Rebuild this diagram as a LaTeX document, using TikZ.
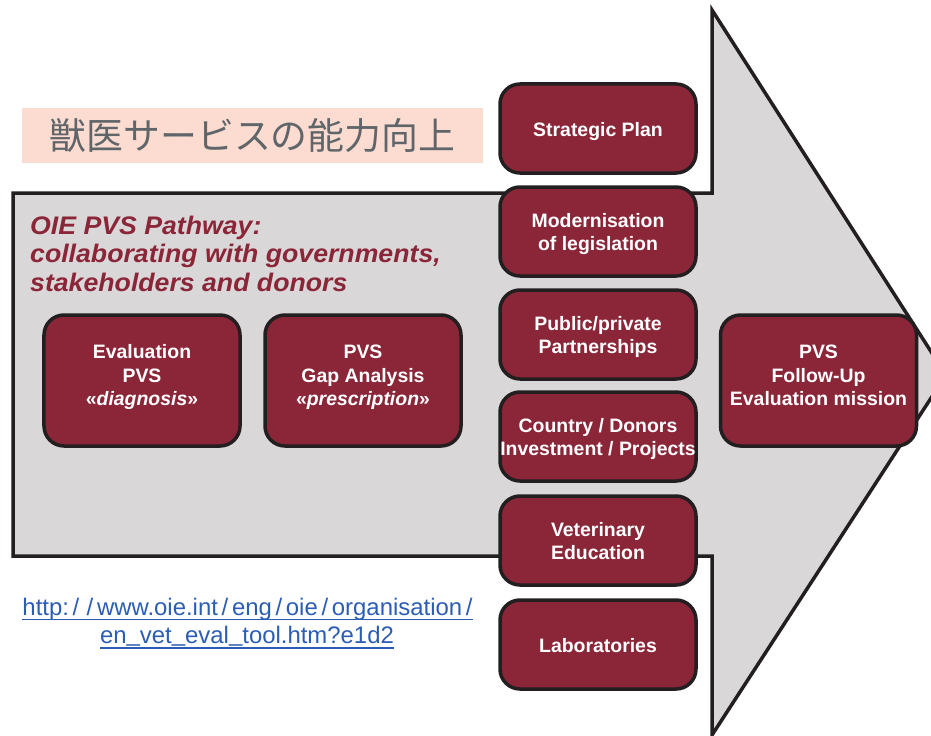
\documentclass[tikz,border=0pt]{standalone}
\usepackage{fontspec}
\setmainfont{Liberation Sans}
\newfontfamily\jpfont{Noto Sans CJK JP}
\newfontfamily\capfont[FakeStretch=1.05]{Liberation Sans}
\usetikzlibrary{calc}

\definecolor{maroon}{HTML}{8B2639}
\definecolor{edge}{HTML}{231F20}
\definecolor{arrowgray}{HTML}{D9D7D8}
\definecolor{pinkbg}{HTML}{FCDCD0}
\definecolor{jpgray}{HTML}{5F6569}
\definecolor{linkblue}{HTML}{2B5DB4}

% invisible struts fixing the height of a first line and the depth of a last line
\newcommand\topline{\rule{0pt}{20bp}}
\newcommand\lowline[1][5bp]{\rule[-#1]{0pt}{#1}}
% slash and underscore as set in the link
\newcommand\urlslash{\hspace{3.7bp}/\hspace{3.7bp}}
\newcommand\urlus{\raisebox{1.3bp}{\_}}

\begin{document}
\begin{tikzpicture}[x=1bp,y=-1bp,
  stepbox/.style={draw=edge, line width=3.5bp, fill=maroon, rounded corners=20bp,
    text=white, align=center, inner sep=0pt,
    font=\fontsize{19.5}{23.5}\selectfont\bfseries},
  rowbox/.style={stepbox, minimum width=196bp, minimum height=89bp},
  tallbox/.style={stepbox, minimum width=196bp, minimum height=131bp},
  linktext/.style={text=linkblue, inner sep=0pt, anchor=base,
    font=\fontsize{24}{28}\selectfont},
  linkline/.style={draw=linkblue, line width=1.4bp}]

\useasboundingbox (0,0) rectangle (931,736);
\clip (0,0) rectangle (931,736);

% big grey arrow
\draw[fill=arrowgray, draw=edge, line width=3.5bp, line join=miter]
  (13,193) -- (712,193) -- (712,10) -- (946,375) -- (712,735)
  -- (712,556) -- (13,556) -- cycle;

% heading on pink band
\node[fill=pinkbg, minimum width=461bp, minimum height=55bp, inner sep=0pt,
  text=jpgray, font=\jpfont\fontsize{37}{40}\selectfont]
  (jp) at (252.5,135.5) {獣医サービスの能力向上};

% pathway caption
\node[anchor=north west, inner sep=0pt, align=left, text=maroon,
  font=\capfont\fontsize{25.5}{28.4}\selectfont\bfseries\itshape]
  (caption) at (30,214.5) {\topline OIE PVS Pathway:\\collaborating with governments,\\stakeholders and donors};

% evaluation steps
\node[tallbox] (eval) at (142,380.5) {\topline Evaluation\\PVS\\«\textit{diagnosis}»\lowline[17bp]};
\node[tallbox] (gap) at (363,380.5) {\topline PVS\\Gap Analysis\\«\textit{prescription}»\lowline[17bp]};

% column of activities
\node[rowbox] (plan) at (598,128.5) {\topline Strategic Plan\lowline};
\node[rowbox] (leg) at (598,231.5) {\topline Modernisation\\of legislation\lowline};
\node[rowbox] (ppp) at (598,334.5) {\topline Public/private\\Partnerships\lowline};
\node[rowbox] (inv) at (598,436.5) {\topline Country / Donors\\Investment / Projects\lowline};
\node[rowbox] (edu) at (598,540.5) {\topline Veterinary\\Education\lowline};
\node[rowbox] (lab) at (598,644.5) {\topline Laboratories\lowline};

% follow-up mission
\node[tallbox] (follow) at (818.5,380.5) {\topline PVS\\Follow-Up\\Evaluation mission\lowline[17bp]};

% link
\node[linktext] (url1) at (247.5,615)
  {http:\urlslash\urlslash www.oie.int\urlslash eng\urlslash oie\urlslash organisation\urlslash};
\node[linktext] (url2) at (247,643) {en\urlus vet\urlus eval\urlus tool.htm?e1d2};
\draw[linkline] ([yshift=-4.5bp]url1.base west) -- ([yshift=-4.5bp]url1.base east);
\draw[linkline] ([yshift=-5bp]url2.base west) -- ([yshift=-5bp]url2.base east);

\end{tikzpicture}
\end{document}
